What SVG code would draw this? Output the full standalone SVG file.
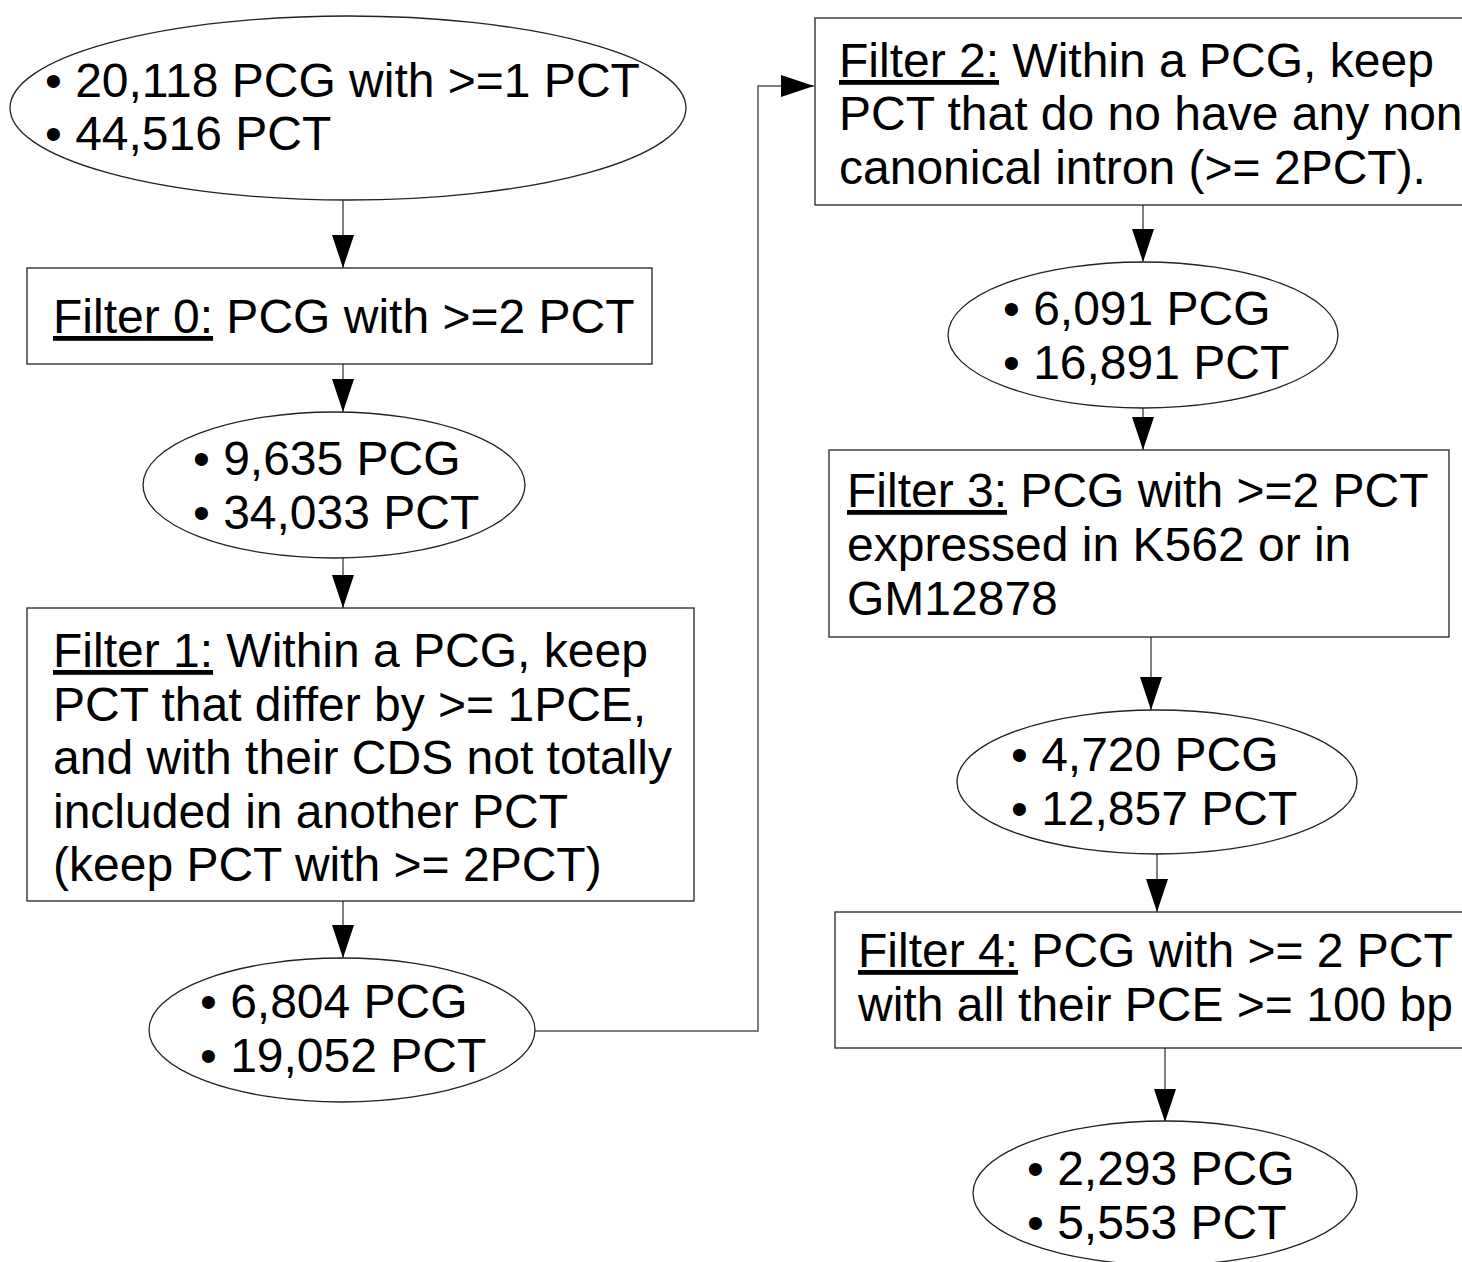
<svg xmlns="http://www.w3.org/2000/svg" width="1462" height="1262" viewBox="0 0 1462 1262">
<defs>
<style>
.n{fill:#fff;stroke:#222;stroke-width:1.3}
.t{font-family:"Liberation Sans",Arial,sans-serif;font-size:48px;fill:#000}
.u{text-decoration:underline}
.c{fill:none;stroke:#555;stroke-width:1.5}
</style>
<marker id="ah" markerUnits="userSpaceOnUse" markerWidth="33" markerHeight="22" refX="33" refY="11" orient="auto" viewBox="0 0 33 22">
<path d="M0,0 L33,11 L0,22 Z" fill="#000"/>
</marker>
</defs>
<rect width="1462" height="1262" fill="#fff"/>
<g id="connectors">
<line class="c" x1="343" y1="200" x2="343" y2="268" marker-end="url(#ah)"/>
<line class="c" x1="343" y1="364" x2="343" y2="412" marker-end="url(#ah)"/>
<line class="c" x1="343" y1="558" x2="343" y2="608" marker-end="url(#ah)"/>
<line class="c" x1="343" y1="901" x2="343" y2="958" marker-end="url(#ah)"/>
<polyline class="c" points="535,1031 758,1031 758,86 814,86" marker-end="url(#ah)"/>
<line class="c" x1="1143" y1="205" x2="1143" y2="262" marker-end="url(#ah)"/>
<line class="c" x1="1143" y1="408" x2="1143" y2="450" marker-end="url(#ah)"/>
<line class="c" x1="1151" y1="637" x2="1151" y2="710" marker-end="url(#ah)"/>
<line class="c" x1="1157" y1="853" x2="1157" y2="912" marker-end="url(#ah)"/>
<line class="c" x1="1165" y1="1048" x2="1165" y2="1122" marker-end="url(#ah)"/>
</g>
<g id="start">
<ellipse class="n" cx="348" cy="108" rx="338" ry="92"/>
<text class="t" x="45" y="97">• 20,118 PCG with &gt;=1 PCT</text>
<text class="t" x="45" y="150">• 44,516 PCT</text>
</g>
<g id="filter0">
<rect class="n" x="27" y="268" width="625" height="96"/>
<text class="t" x="53" y="333"><tspan class="u">Filter 0:</tspan> PCG with &gt;=2 PCT</text>
</g>
<g id="result0">
<ellipse class="n" cx="334" cy="485" rx="191" ry="73"/>
<text class="t" x="193" y="475">• 9,635 PCG</text>
<text class="t" x="193" y="529">• 34,033 PCT</text>
</g>
<g id="filter1">
<rect class="n" x="27" y="608" width="667" height="293"/>
<text class="t" x="53" y="667"><tspan class="u">Filter 1:</tspan> Within a PCG, keep</text>
<text class="t" x="53" y="721">PCT that differ by &gt;= 1PCE,</text>
<text class="t" x="53" y="774">and with their CDS not totally</text>
<text class="t" x="53" y="828">included in another PCT</text>
<text class="t" x="53" y="881">(keep PCT with &gt;= 2PCT)</text>
</g>
<g id="result1">
<ellipse class="n" cx="342" cy="1030" rx="193" ry="72"/>
<text class="t" x="200" y="1018">• 6,804 PCG</text>
<text class="t" x="200" y="1072">• 19,052 PCT</text>
</g>
<g id="filter2">
<rect class="n" x="815" y="18" width="700" height="187"/>
<text class="t" x="839" y="77"><tspan class="u">Filter 2:</tspan> Within a PCG, keep</text>
<text class="t" x="839" y="130">PCT that do no have any non</text>
<text class="t" x="839" y="184">canonical intron (&gt;= 2PCT).</text>
</g>
<g id="result2">
<ellipse class="n" cx="1143" cy="335" rx="195" ry="73"/>
<text class="t" x="1003" y="325">• 6,091 PCG</text>
<text class="t" x="1003" y="379">• 16,891 PCT</text>
</g>
<g id="filter3">
<rect class="n" x="829" y="450" width="620" height="187"/>
<text class="t" x="847" y="507"><tspan class="u">Filter 3:</tspan> PCG with &gt;=2 PCT</text>
<text class="t" x="847" y="561">expressed in K562 or in</text>
<text class="t" x="847" y="615">GM12878</text>
</g>
<g id="result3">
<ellipse class="n" cx="1157" cy="782" rx="200" ry="72"/>
<text class="t" x="1011" y="771">• 4,720 PCG</text>
<text class="t" x="1011" y="825">• 12,857 PCT</text>
</g>
<g id="filter4">
<rect class="n" x="835" y="912" width="700" height="136"/>
<text class="t" x="858" y="967"><tspan class="u">Filter 4:</tspan> PCG with &gt;= 2 PCT</text>
<text class="t" x="858" y="1021">with all their PCE &gt;= 100 bp</text>
</g>
<g id="result4">
<ellipse class="n" cx="1165" cy="1193" rx="192" ry="72"/>
<text class="t" x="1027" y="1185">• 2,293 PCG</text>
<text class="t" x="1027" y="1239">• 5,553 PCT</text>
</g>
</svg>
